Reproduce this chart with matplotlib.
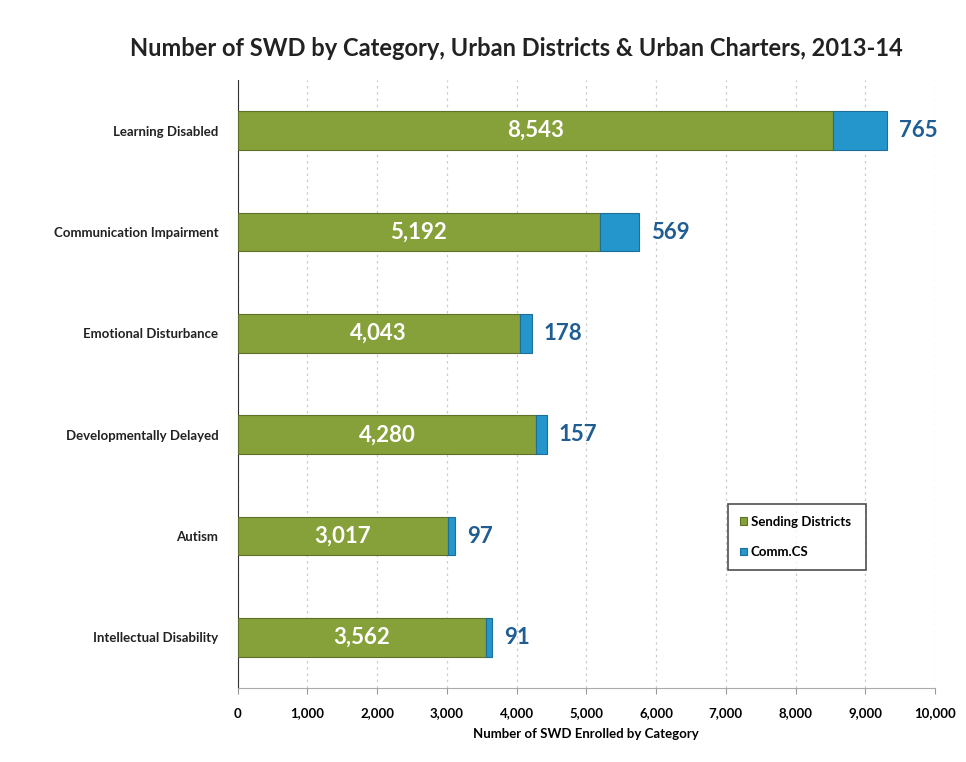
import matplotlib
matplotlib.use("Agg")
import matplotlib.pyplot as plt
from matplotlib.ticker import FuncFormatter

categories = [
    "Learning Disabled",
    "Communication Impairment",
    "Emotional Disturbance",
    "Developmentally Delayed",
    "Autism",
    "Intellectual Disability",
]
sending_districts = [8543, 5192, 4043, 4280, 3017, 3562]
comm_cs = [765, 569, 178, 157, 97, 91]

GREEN = "#86a03a"
BLUE = "#2596cc"
LABEL_BLUE = "#1f5d92"

plt.rcParams["font.family"] = ["Lato", "DejaVu Sans"]

fig = plt.figure(figsize=(9.66, 7.62), dpi=100)
ax = fig.add_axes([0.246, 0.097, 0.722, 0.798])

y = list(range(len(categories)))
ax.barh(y, sending_districts, height=0.38, color=GREEN, edgecolor="#5d7228",
        linewidth=0.8, label="Sending Districts", zorder=3)
ax.barh(y, comm_cs, left=sending_districts, height=0.38, color=BLUE,
        edgecolor="#1d6f99", linewidth=0.8, label="Comm.CS", zorder=3)

for yi, s, c in zip(y, sending_districts, comm_cs):
    ax.text(s / 2, yi, f"{s:,}", ha="center", va="center", color="white",
            fontsize=16, fontweight="bold", zorder=4)
    ax.text(s + c + 170, yi, f"{c:,}", ha="left", va="center", color=LABEL_BLUE,
            fontsize=16, fontweight="bold", zorder=4)

ax.set_xlim(0, 10000)
ax.set_ylim(len(categories) - 0.5, -0.5)
ax.set_yticks(y)
ax.set_yticklabels(categories, fontsize=9.5, fontweight="bold", color="#222222")
ax.set_xticks(range(0, 10001, 1000))
ax.xaxis.set_major_formatter(FuncFormatter(lambda v, p: f"{int(v):,}"))
for lbl in ax.get_xticklabels():
    lbl.set_fontweight("bold")
    lbl.set_fontsize(9.5)
ax.tick_params(axis="y", length=0, pad=14)
ax.tick_params(axis="x", length=4, color="#999999", pad=10)
ax.set_xlabel("Number of SWD Enrolled by Category", fontsize=9.5, fontweight="bold",
              labelpad=6)

ax.grid(axis="x", color="#cccccc", linestyle=(0, (2, 3)), linewidth=0.9, zorder=0)
for side in ("top", "right"):
    ax.spines[side].set_visible(False)
ax.spines["left"].set_color("#333333")
ax.spines["bottom"].set_color("#aaaaaa")

leg = ax.legend(loc="lower left", bbox_to_anchor=(0.694, 0.183, 0.217, 0.113),
                mode="expand", prop={"weight": "bold", "size": 9.5},
                frameon=True, fancybox=False, edgecolor="#222222",
                handlelength=0.5, handleheight=0.5, handletextpad=0.3,
                labelspacing=1.4, borderpad=0.9)
leg.get_frame().set_linewidth(1.2)

fig.suptitle("Number of SWD by Category, Urban Districts & Urban Charters, 2013-14",
             x=0.535, y=0.952, fontsize=17, fontweight="bold", color="#222222")

fig.savefig("out.png", dpi=100)
